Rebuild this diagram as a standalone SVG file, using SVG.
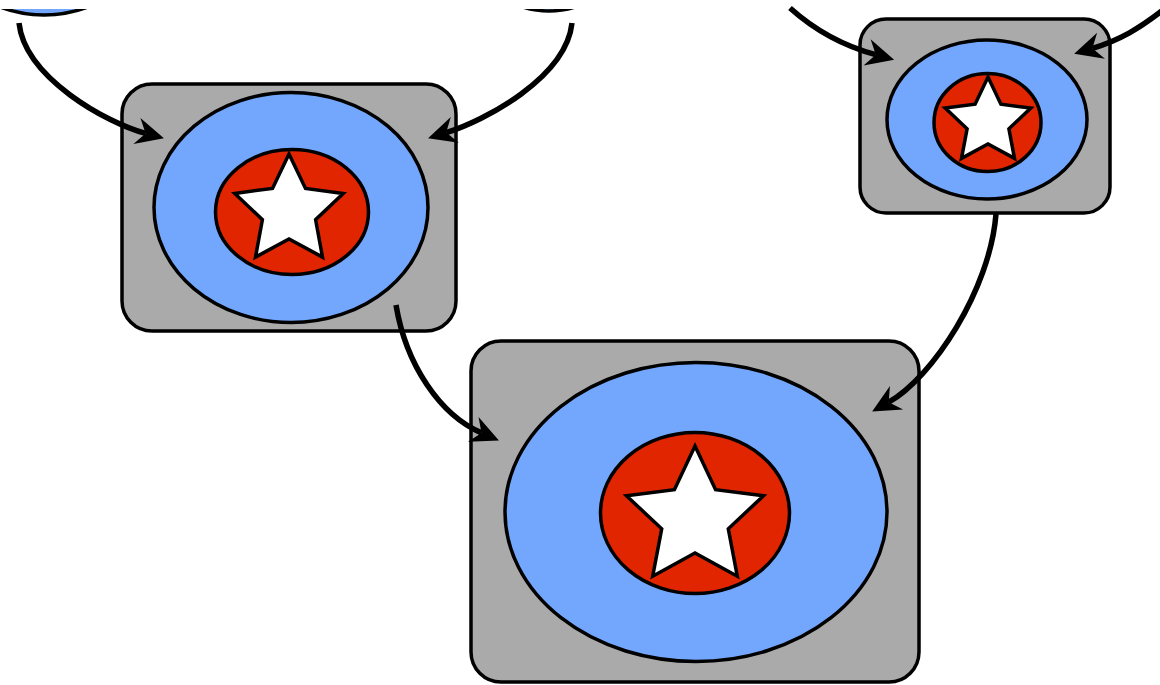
<svg xmlns="http://www.w3.org/2000/svg" width="1160" height="685" viewBox="0 0 1160 685">
  <style>
    .frame { fill: #aaaaaa; stroke: #000; stroke-width: 3.5; }
    .ring { fill: #73a7fd; stroke: #000; stroke-width: 3.5; }
    .core { fill: #e12500; stroke: #000; stroke-width: 3.5; }
    .star { fill: #fff; stroke: #000; stroke-width: 3.5; stroke-linejoin: miter; }
    .link { fill: none; stroke: #000; stroke-width: 5.5; marker-end: url(#head); }
  </style>
  <defs>
    <!-- swept-back arrowhead; path end sits at the notch -->
    <marker id="head" markerUnits="userSpaceOnUse" viewBox="-12 -16 34 32" refX="0" refY="0" markerWidth="34" markerHeight="32" orient="auto" overflow="visible">
      <path d="M19,0 L-9,-13.5 L0,0 L-9,13.5 Z" fill="#000"/>
    </marker>
    <clipPath id="below-top">
      <rect x="0" y="9" width="1160" height="676"/>
    </clipPath>
  </defs>
  <rect width="1160" height="685" fill="#fff"/>

  <!-- nodes partly out of view at the top -->
  <g id="node-top-left" clip-path="url(#below-top)">
    <ellipse class="ring" cx="44" cy="-100" rx="120" ry="115"/>
  </g>
  <g id="node-top-mid" clip-path="url(#below-top)">
    <ellipse class="ring" cx="549" cy="-104" rx="100" ry="115"/>
  </g>

  <g id="node-left">
    <rect class="frame" x="122" y="84" width="334" height="247" rx="30"/>
    <ellipse class="ring" cx="291" cy="207.5" rx="137" ry="115"/>
    <ellipse class="core" cx="292" cy="212" rx="76.5" ry="62.5"/>
    <path class="star" d="M289,154 L305.5,188.4 L343.2,193.4 L315.6,219.7 L322.5,257.1 L289,239 L255.5,257.1 L262.4,219.7 L234.8,193.4 L272.5,188.4 Z"/>
  </g>

  <g id="node-right">
    <rect class="frame" x="860" y="19" width="250" height="194" rx="26"/>
    <ellipse class="ring" cx="987" cy="119.5" rx="100" ry="79.5"/>
    <ellipse class="core" cx="987.5" cy="122.5" rx="53.5" ry="49"/>
    <path class="star" d="M988,77 L1000.9,104.2 L1030.8,108.1 L1008.9,128.8 L1014.5,158.4 L988,144 L961.5,158.4 L967.1,128.8 L945.2,108.1 L975.1,104.2 Z"/>
  </g>

  <g id="node-bottom">
    <rect class="frame" x="471" y="341" width="448" height="341" rx="30"/>
    <ellipse class="ring" cx="696" cy="512" rx="191" ry="149.5"/>
    <ellipse class="core" cx="695" cy="513" rx="94.5" ry="80.5"/>
    <path class="star" d="M695,446 L715.6,489.7 L763.5,495.8 L728.3,528.8 L737.3,576.2 L695,553 L652.7,576.2 L661.7,528.8 L626.5,495.8 L674.4,489.7 Z"/>
  </g>

  <g id="connectors">
    <path class="link" d="M19,23 C25,78 107,123 145.6,133.4"/>
    <path class="link" d="M572,23 C566,78 484.4,120.7 446.2,132.6"/>
    <path class="link" d="M790,8 C810,26 840,45 875.8,54.7"/>
    <path class="link" d="M1163,10 C1140,28 1120,40 1092.4,48.3"/>
    <path class="link" d="M396,305 C406,365 440.2,415.2 481.5,432.9"/>
    <path class="link" d="M996,214 C990,290 932.3,377.7 888.7,402.2"/>
  </g>
</svg>
